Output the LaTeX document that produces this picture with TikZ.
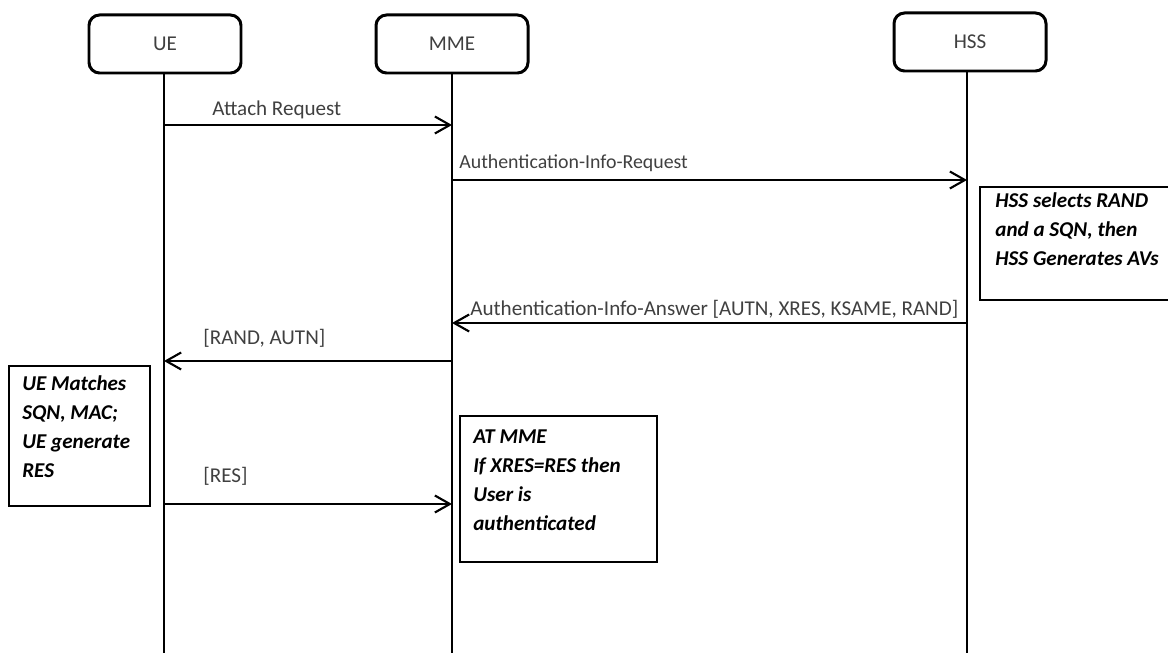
\documentclass[tikz,border=0pt]{standalone}
\usepackage{fontspec}
\setmainfont{Carlito}
\usetikzlibrary{arrows.meta}

\begin{document}
\begin{tikzpicture}[
  entity/.style={draw,line width=1.7pt,rounded corners=6pt,minimum width=3.04cm,minimum height=1.16cm,text=black!75,font=\fontsize{12}{14}\selectfont},
  life/.style={line width=1.1pt},
  msg/.style={line width=1.1pt,-{Straight Barb[length=3mm,width=3.4mm,line width=1.2pt]}},
  lbl/.style={anchor=west,inner sep=0pt,text=black!75,font=\fontsize{12}{14}\selectfont},
  note/.style={anchor=north west,inner sep=0pt,align=left,font=\fontsize{12}{16.6}\selectfont\bfseries\itshape}]
\useasboundingbox (0,0) rectangle (23.36,-13.06);
\node [entity] (ue) at (3.30,-0.88) {UE};
\node [entity] (mme) at (9.04,-0.88) {MME};
\node [entity] (hss) at (19.40,-0.84) {HSS};
\coordinate (ueend) at (3.28,-13.1);
\coordinate (mmeend) at (9.04,-13.1);
\coordinate (hssend) at (19.34,-13.1);
\draw [life] (ue.south -| ueend) -- (ueend);
\draw [life] (mme.south -| mmeend) -- (mmeend);
\draw [life] (hss.south -| hssend) -- (hssend);
% messages
\draw [msg] (ueend |- 0,-2.50) -- (mmeend |- 0,-2.50);
\node [lbl] (m1) at (4.24,-2.20) {Attach Request};
\draw [msg] (mmeend |- 0,-3.60) -- (hssend |- 0,-3.60);
\node [lbl,font=\fontsize{11.3}{13}\selectfont] (m2) at (9.18,-3.26) {Authentication-Info-Request};
\draw [msg] (hssend |- 0,-6.46) -- (mmeend |- 0,-6.46);
\node [lbl] (m3) at (9.40,-6.18) {Authentication-Info-Answer [AUTN, XRES, KSAME, RAND]};
\draw [msg] (mmeend |- 0,-7.22) -- (ueend |- 0,-7.22);
\node [lbl] (m4) at (4.06,-6.76) {[RAND, AUTN]};
\draw [msg] (ueend |- 0,-10.08) -- (mmeend |- 0,-10.08);
\node [lbl] (m5) at (4.06,-9.52) {[RES]};
% notes
\draw [line width=0.6pt] (19.60,-3.74) rectangle (23.50,-6.00);
\node [note] (hssnote) at (19.90,-3.84) {HSS selects RAND\\and a SQN, then\\HSS Generates AVs};
\draw [line width=0.6pt] (0.18,-7.32) rectangle (3.00,-10.12);
\node [note] (uenote) at (0.44,-7.50) {UE Matches\\SQN, MAC;\\UE generate\\RES};
\draw [line width=0.6pt] (9.20,-8.32) rectangle (13.14,-11.24);
\node [note] (mmenote) at (9.46,-8.58) {AT MME\\If XRES=RES then\\User is\\authenticated};
\end{tikzpicture}
\end{document}
